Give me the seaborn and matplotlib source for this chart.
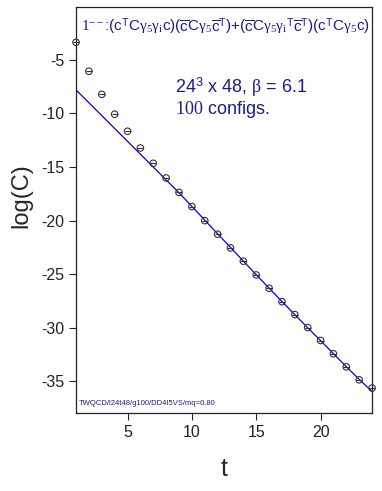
import numpy as np
import pandas as pd
import matplotlib
matplotlib.use("Agg")
import matplotlib.pyplot as plt
import seaborn as sns

# data
t_pts = list(range(1, 25))
logC = [-3.36, -6.06, -8.21, -10.07, -11.66, -13.22, -14.65, -16.02, -17.37, -18.69,
        -20.00, -21.27, -22.55, -23.79, -25.07, -26.31, -27.56, -28.77, -29.98, -31.19,
        -32.43, -33.65, -34.86, -35.63]
fit_t = list(range(1, 25))
fit_y = [-7.80, -9.00, -10.20, -11.40, -12.60, -13.80, -15.00, -16.20, -17.40, -18.67,
         -19.95, -21.23, -22.50, -23.78, -25.05, -26.30, -27.55, -28.78, -30.00, -31.20,
         -32.42, -33.63, -34.82, -35.95]
xticks = [5, 10, 15, 20]
yticks = [-5, -10, -15, -20, -25, -30, -35]

sns.set_style("ticks")
plt.rcParams['font.family'] = ['Liberation Sans', 'DejaVu Sans']
plt.rcParams['axes.unicode_minus'] = False
plt.rcParams['mathtext.fontset'] = 'custom'
plt.rcParams['mathtext.rm'] = 'Liberation Serif'
plt.rcParams['mathtext.it'] = 'Liberation Serif'
plt.rcParams['mathtext.sf'] = 'Liberation Sans'
plt.rcParams['mathtext.default'] = 'rm'

navy = "#1c1c8e"
fig = plt.figure(figsize=(3.82, 4.91), dpi=100)
ax = fig.add_axes([0.199, 0.159, 0.775, 0.827])

pts = pd.DataFrame({"t": t_pts, "logC": logC})
fit = pd.DataFrame({"t": fit_t, "y": fit_y})

sns.lineplot(data=fit, x="t", y="y", ax=ax, color="#0000ff", lw=0.9)
sns.scatterplot(data=pts, x="t", y="logC", ax=ax, marker="o", s=22,
                facecolor="none", edgecolor="#333333", linewidth=0.8, clip_on=False, zorder=3)
sns.scatterplot(data=pts, x="t", y="logC", ax=ax, marker="_", s=22,
                color="#333333", linewidth=0.8, clip_on=False, zorder=3)

ax.set_xlim(1, 24)
ax.set_ylim(-37.95, -0.05)
ax.set_xticks(xticks)
ax.set_yticks(yticks)
ax.tick_params(axis="both", labelsize=11.5, length=5, width=0.8, colors="#222222")
for s in ax.spines.values():
    s.set_visible(True)
    s.set_linewidth(0.9)
    s.set_color("#222222")
ax.set_xlabel("t", fontsize=18)
ax.set_ylabel("log(C)", fontsize=17)
ax.xaxis.set_label_coords(0.5, -0.108)
ax.yaxis.set_label_coords(-0.148, 0.534)

title = (r"$\mathrm{1}^{--}$:(c$^{\mathsf{T}}$C$\gamma_5\gamma_i$c)"
         r"($\overline{\mathsf{c}}$C$\gamma_5\overline{\mathsf{c}}^{\mathsf{T}}$)+"
         r"($\overline{\mathsf{c}}$C$\gamma_5\gamma_i{}^{\mathsf{T}}\overline{\mathsf{c}}^{\mathsf{T}}$)"
         r"(c$^{\mathsf{T}}$C$\gamma_5$c)")
ax.text(0.505, 0.978, title, transform=ax.transAxes, ha="center", va="top",
        fontsize=11, color=navy)
ax.text(0.335, 0.803, r"24$^{\mathsf{3}}$ x 48, $\beta$ = 6.1", transform=ax.transAxes,
        ha="left", va="center", fontsize=13, color=navy)
ax.text(0.335, 0.748, r"$\mathrm{100}$ configs.", transform=ax.transAxes,
        ha="left", va="center", fontsize=13, color=navy)
ax.text(0.01, 0.015, "TWQCD/l24t48/g100/DD4I5VS/mq=0.80", transform=ax.transAxes,
        ha="left", va="bottom", fontsize=5.5, color=navy)

fig.savefig("out.png", dpi=100)
